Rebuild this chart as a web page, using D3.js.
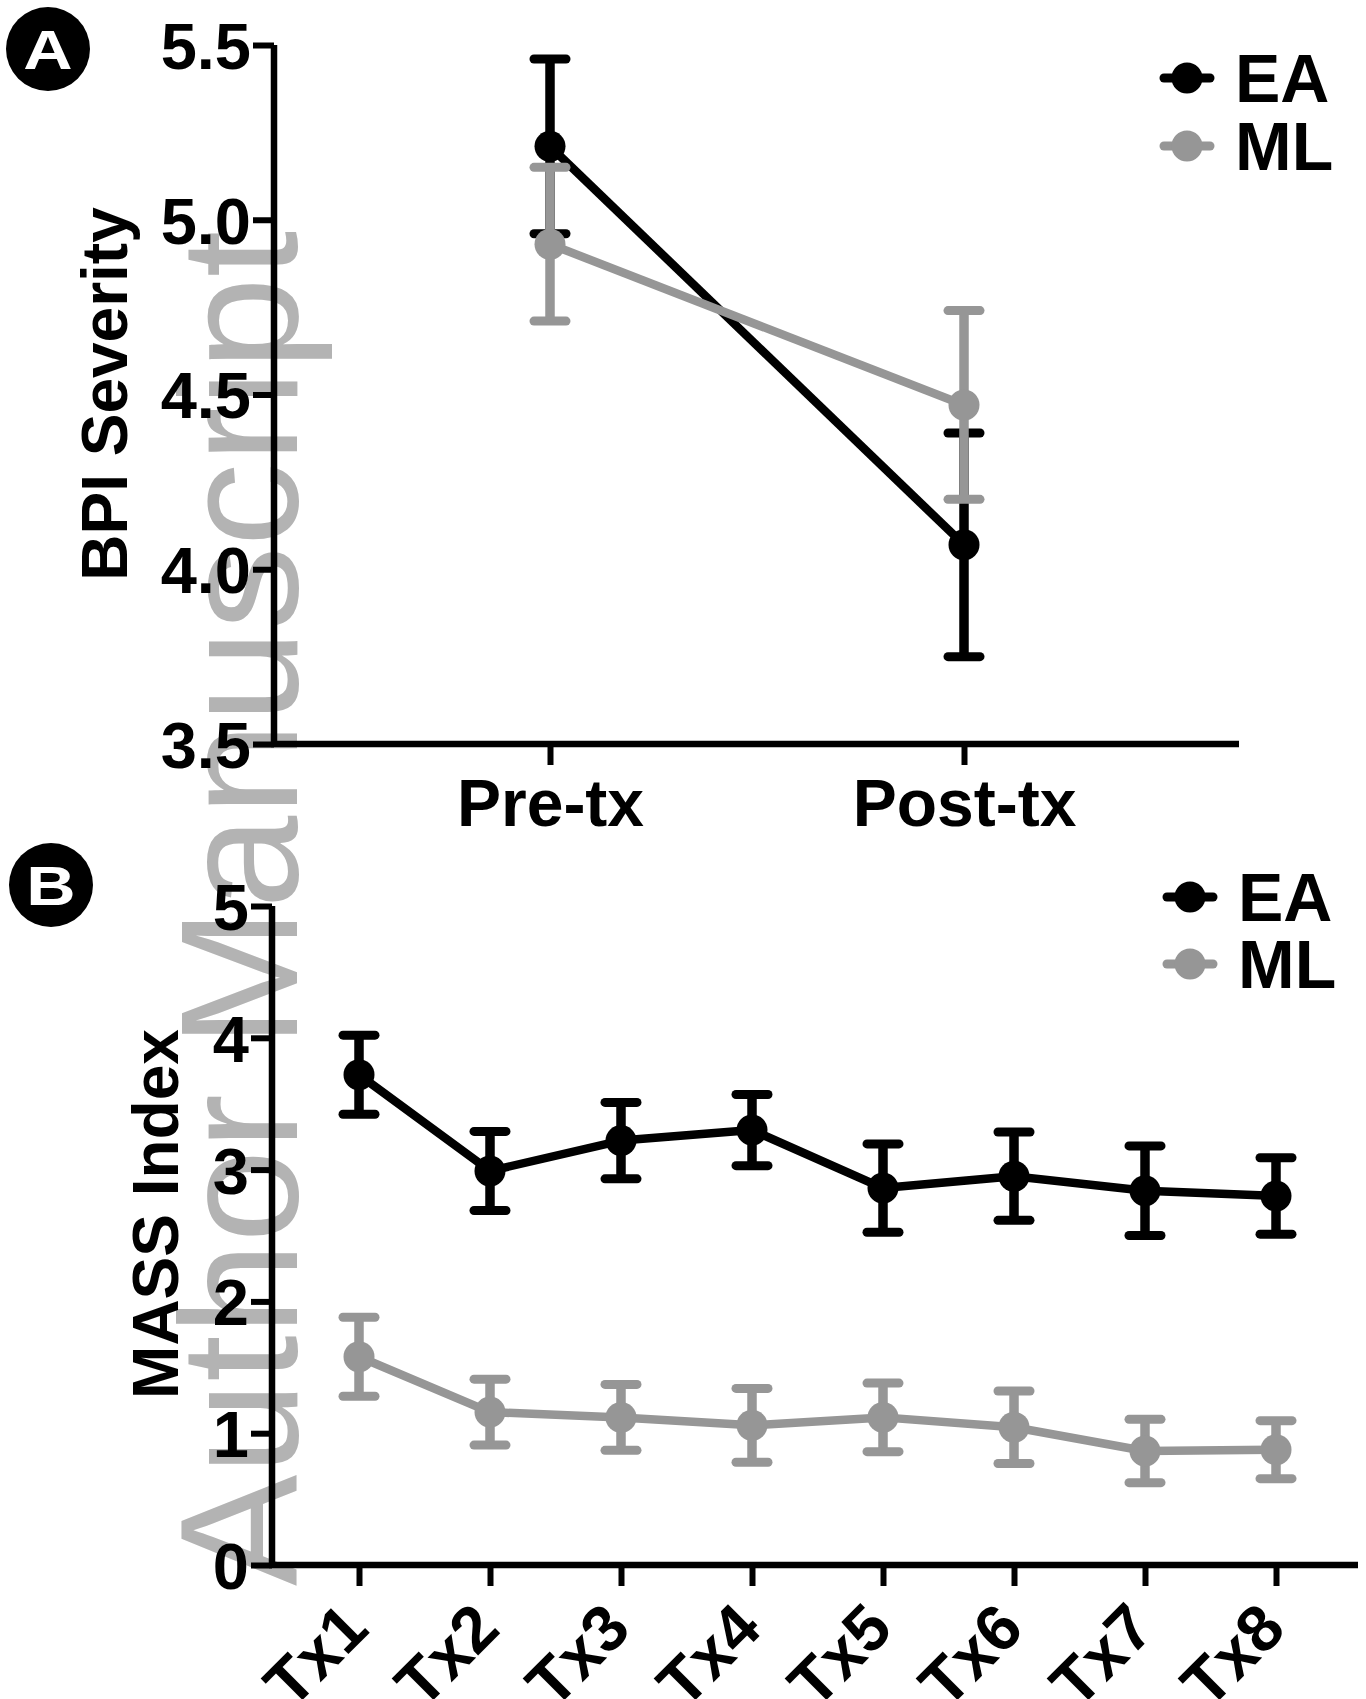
<!DOCTYPE html>
<html><head><meta charset="utf-8">
<script src="https://cdn.jsdelivr.net/npm/d3@7"></script>
<style>
body{margin:0;background:#fff}
svg{display:block}
text{font-family:"Liberation Sans",Arial,Helvetica,sans-serif;font-weight:bold}
</style>
</head><body>
<svg id="c" width="1366" height="1699"></svg>
<script>
// ---------- data ----------
const seriesNames = ["EA", "ML"];
const seriesColors = ["#000000", "#969696"];

const bpiCategories = ["Pre-tx", "Post-tx"];
const bpiEA = [5.21, 4.07];
const bpiEAerr = [0.25, 0.32];
const bpiML = [4.93, 4.47];
const bpiMLerr = [0.22, 0.27];
const bpiTicks = [3.5, 4.0, 4.5, 5.0, 5.5];

const massCategories = ["Tx1", "Tx2", "Tx3", "Tx4", "Tx5", "Tx6", "Tx7", "Tx8"];
const massEA = [3.72, 2.99, 3.22, 3.30, 2.86, 2.95, 2.84, 2.80];
const massEAerr = [0.30, 0.30, 0.29, 0.27, 0.335, 0.335, 0.34, 0.29];
const massML = [1.58, 1.16, 1.12, 1.06, 1.12, 1.045, 0.865, 0.875];
const massMLerr = [0.30, 0.25, 0.25, 0.28, 0.26, 0.275, 0.24, 0.22];
const massTicks = [0, 1, 2, 3, 4, 5];

const panelLabels = ["A", "B"];
const yTitles = ["BPI Severity", "MASS Index"];
const watermark = "Author Manuscript";

// ---------- drawing ----------
const svg = d3.select("#c");
const FONT = 65;

// watermark (underneath)
svg.append("text")
  .attr("transform", "translate(297,1586) rotate(-90)")
  .style("font-weight", "normal")
  .attr("font-size", 167)
  .attr("fill", "#b3b3b3")
  .text(watermark);

function drawPanel(o) {
  const g = svg.append("g");
  const x = d3.scalePoint().domain(o.categories).range(o.xRange);
  const y = d3.scaleLinear().domain(o.yDomain).range(o.yRange);

  // y axis
  const ya = g.append("g").attr("transform", `translate(${o.x0},0)`)
    .call(d3.axisLeft(y).tickValues(o.yTicks).tickFormat(o.yFormat).tickSize(21).tickPadding(2));
  ya.select(".domain").remove();
  ya.selectAll(".tick line").attr("stroke", "#000").attr("stroke-width", 6);
  ya.selectAll(".tick text").attr("font-size", FONT).attr("fill", "#000")
    .attr("dy", "0.36em");
  ya.attr("font-family", null).attr("font-size", null);

  // x axis
  const xa = g.append("g").attr("transform", `translate(0,${o.yRange[0]})`)
    .call(d3.axisBottom(x).tickSize(21));
  xa.select(".domain").remove();
  xa.attr("font-family", null).attr("font-size", null);
  xa.selectAll(".tick line").attr("stroke", "#000").attr("stroke-width", 6);
  const xt = xa.selectAll(".tick text").attr("font-size", FONT).attr("fill", "#000");
  if (o.rotate) {
    xt.attr("x", 0).attr("y", 0).attr("dy", "0.36em")
      .attr("text-anchor", "end")
      .attr("transform", "translate(-5,50) rotate(-45)");
  } else {
    xt.attr("y", 82).attr("dy", 0).attr("font-size", 66);
  }

  // axis lines
  g.append("line").attr("x1", o.x0).attr("x2", o.x0)
    .attr("y1", o.yRange[1]).attr("y2", o.yRange[0] + 3)
    .attr("stroke", "#000").attr("stroke-width", 6.5);
  g.append("line").attr("x1", o.x0 - 3).attr("x2", o.xEnd)
    .attr("y1", o.yRange[0]).attr("y2", o.yRange[0])
    .attr("stroke", "#000").attr("stroke-width", 6.5);

  // y title
  g.append("text")
    .attr("transform", `translate(${o.titleX},${o.titleY}) rotate(-90)`)
    .attr("text-anchor", "middle").attr("font-size", 64).attr("fill", "#000")
    .text(o.title);

  // series
  o.series.forEach((s, si) => {
    const col = seriesColors[si];
    const sg = g.append("g");
    const pts = o.categories.map((c, i) => ({c, v: s.values[i], e: s.errs[i]}));
    sg.append("path").datum(pts)
      .attr("fill", "none").attr("stroke", col).attr("stroke-width", 8.5)
      .attr("stroke-linejoin", "round")
      .attr("d", d3.line().x(d => x(d.c)).y(d => y(d.v)));
    const eb = sg.selectAll(".eb").data(pts).join("g");
    eb.append("line").attr("x1", d => x(d.c)).attr("x2", d => x(d.c))
      .attr("y1", d => y(d.v + d.e)).attr("y2", d => y(d.v - d.e))
      .attr("stroke", col).attr("stroke-width", 9.5);
    [1, -1].forEach(sgn => {
      eb.append("line").attr("x1", d => x(d.c) - 16).attr("x2", d => x(d.c) + 16)
        .attr("y1", d => y(d.v + sgn * d.e)).attr("y2", d => y(d.v + sgn * d.e))
        .attr("stroke", col).attr("stroke-width", 9).attr("stroke-linecap", "round");
    });
    eb.append("circle").attr("cx", d => x(d.c)).attr("cy", d => y(d.v))
      .attr("r", 15.5).attr("fill", col);

    // legend
    const ly = o.legendY[si];
    const lg = g.append("g");
    lg.append("line").attr("x1", o.legendX - 23).attr("x2", o.legendX + 23)
      .attr("y1", ly).attr("y2", ly).attr("stroke", col).attr("stroke-width", 9)
      .attr("stroke-linecap", "round");
    lg.append("circle").attr("cx", o.legendX).attr("cy", ly).attr("r", 15.5).attr("fill", col);
    lg.append("text").attr("x", o.legendX + 48).attr("y", ly).attr("dy", "0.36em")
      .attr("font-size", 68).attr("fill", "#000").text(seriesNames[si]);
  });

  // panel label
  const pl = svg.append("g").attr("transform", `translate(${o.labelPos[0]},${o.labelPos[1]})`);
  pl.append("circle").attr("r", 42).attr("fill", "#000");
  pl.append("text").attr("transform", "scale(1.22,1)").attr("text-anchor", "middle")
    .attr("dy", "0.36em").attr("font-size", 56).attr("fill", "#fff").text(o.label);
}

drawPanel({
  categories: bpiCategories, xRange: [550, 964], x0: 274, xEnd: 1239,
  yDomain: [3.5, 5.5], yRange: [744, 45], yTicks: bpiTicks, yFormat: d3.format(".1f"),
  title: yTitles[0], titleX: 127, titleY: 394,
  series: [{values: bpiEA, errs: bpiEAerr}, {values: bpiML, errs: bpiMLerr}],
  legendX: 1187, legendY: [78, 146],
  label: panelLabels[0], labelPos: [48, 49], rotate: false
});

drawPanel({
  categories: massCategories, xRange: [359, 1276], x0: 272, xEnd: 1358,
  yDomain: [0, 5], yRange: [1565, 906], yTicks: massTicks, yFormat: d3.format("d"),
  title: yTitles[1], titleX: 178, titleY: 1214,
  series: [{values: massEA, errs: massEAerr}, {values: massML, errs: massMLerr}],
  legendX: 1190, legendY: [897, 964],
  label: panelLabels[1], labelPos: [51, 885], rotate: true
});
</script>
</body></html>
